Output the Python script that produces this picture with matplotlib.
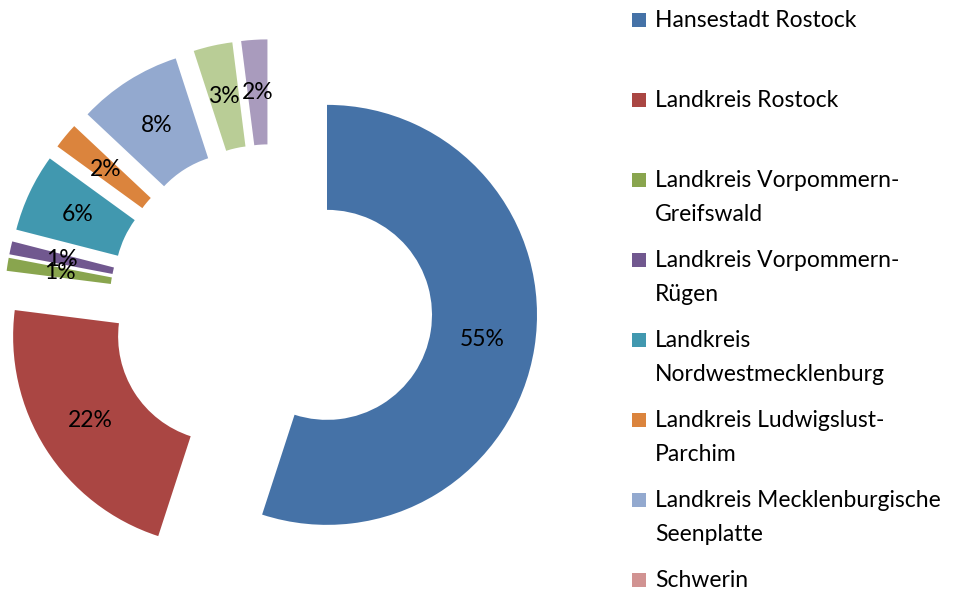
import matplotlib
matplotlib.use("Agg")
import matplotlib.pyplot as plt
import numpy as np

categories = [
    "Hansestadt Rostock",
    "Landkreis Rostock",
    "Landkreis Vorpommern-\nGreifswald",
    "Landkreis Vorpommern-\nRügen",
    "Landkreis\nNordwestmecklenburg",
    "Landkreis Ludwigslust-\nParchim",
    "Landkreis Mecklenburgische\nSeenplatte",
    "Schwerin",
    "Andere Bundesländer",
    "Ausland",
]
values = [55, 22, 1, 1, 6, 2, 8, 0, 3, 2]
colors = ["#4572A7", "#AA4643", "#89A54E", "#71588F", "#4198AF",
          "#DB843D", "#93A9CF", "#D19392", "#B9CD96", "#A99BBD"]

W, H, DPI = 963, 594, 100
fig = plt.figure(figsize=(W / DPI, H / DPI), dpi=DPI)
ax = fig.add_axes([0, 0, 1, 1])

cx, cy, R = 271, 306, 210  # pixel centre and radius
wedges, _ = ax.pie(values, colors=colors, startangle=90, counterclock=False,
                   explode=[0.27] * len(values), radius=1.0,
                   wedgeprops=dict(width=0.5, linewidth=0))
ax.set_xlim(-cx / R, (W - cx) / R)
ax.set_ylim(-(H - cy) / R, cy / R)
ax.set_aspect("equal")
ax.set_axis_off()

font = "Lato"
fs = 16.5
for w, v in zip(wedges, values):
    if v <= 0:
        continue
    ang = np.deg2rad((w.theta1 + w.theta2) / 2)
    x0, y0 = w.center
    r = 0.75
    ax.text(x0 + r * np.cos(ang), y0 + r * np.sin(ang), f"{v}%",
            ha="center", va="center", fontsize=fs, family=font, color="black")

# legend (clipped by figure bottom like the original)
for i, (name, col) in enumerate(zip(categories, colors)):
    ycen = 20 + 80 * i
    fig.patches.append(plt.Rectangle((632 / W, 1 - (ycen + 7) / H), 14 / W, 14 / H,
                                     transform=fig.transFigure, facecolor=col,
                                     edgecolor="none"))
    fig.text(655 / W, 1 - (ycen - 10) / H, name, ha="left", va="top",
             fontsize=fs, family=font, color="black", linespacing=1.75)

fig.savefig("out.png", dpi=DPI)
